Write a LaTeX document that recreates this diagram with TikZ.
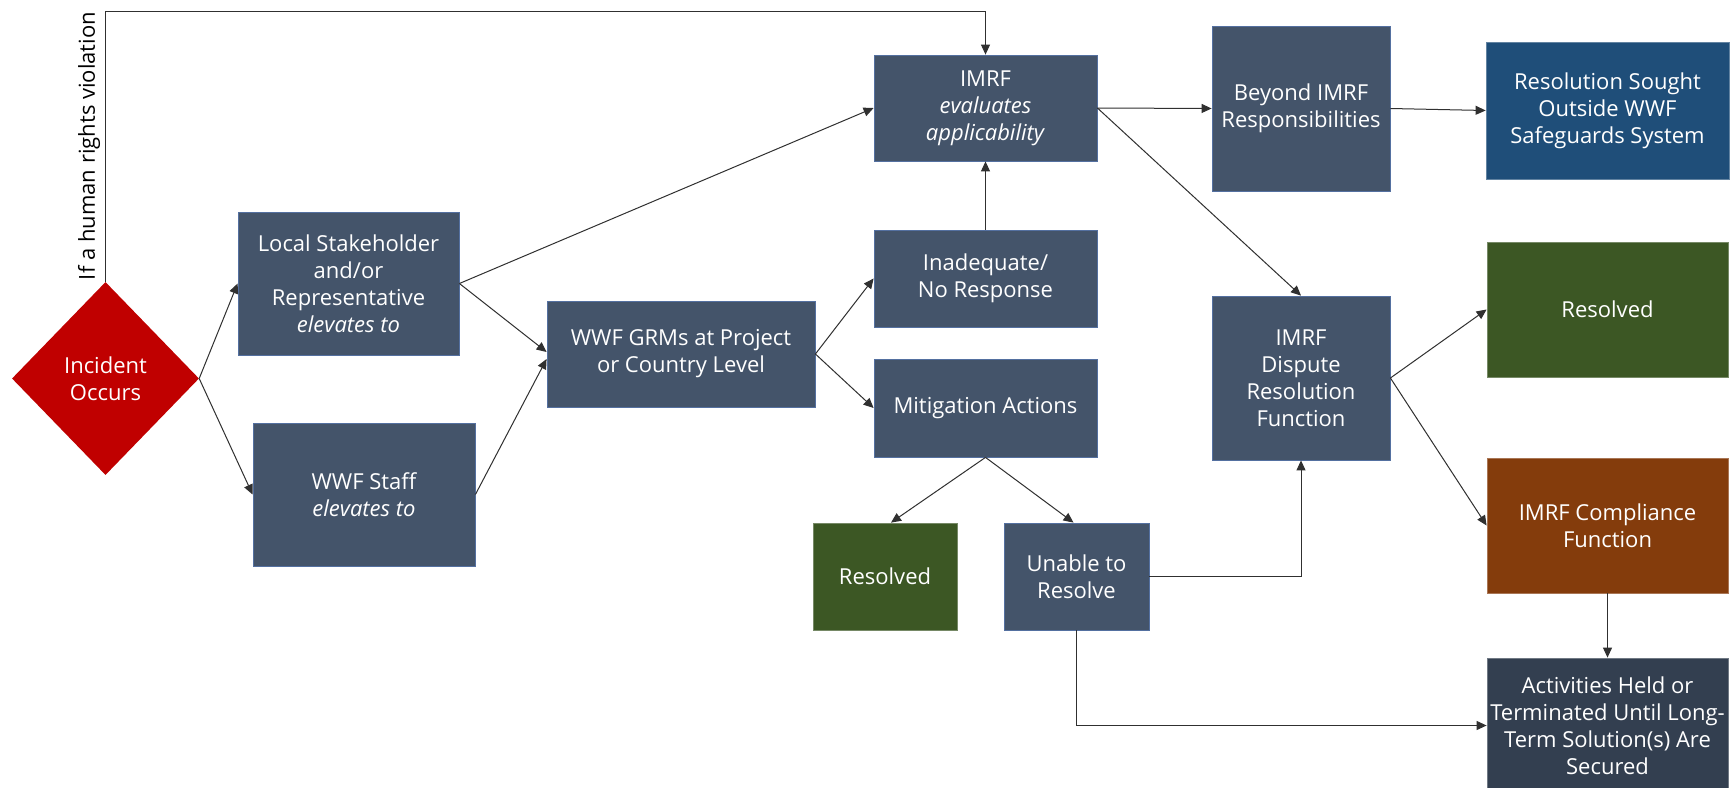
\documentclass[tikz,border=0pt]{standalone}
\usepackage{fontspec}
\setmainfont{Open Sans}
\usetikzlibrary{shapes.geometric,arrows.meta}
\definecolor{slate}{HTML}{44546A}
\definecolor{slateedge}{HTML}{5470A0}
\definecolor{incred}{HTML}{C00000}
\definecolor{resgreen}{HTML}{3C5724}
\definecolor{seekblue}{HTML}{1F4E79}
\definecolor{compbrown}{HTML}{843C0C}
\definecolor{actdark}{HTML}{333F50}
\definecolor{linegray}{HTML}{303030}
\begin{document}
\begin{tikzpicture}[x=1pt,y=-1pt,
  box/.style={rectangle, fill=slate, draw=slateedge, line width=0.8pt, inner sep=0pt,
    text=white, align=center, font=\fontsize{22}{27}\selectfont},
  greenbox/.style={box, fill=resgreen, draw=resgreen!70!white},
  bluebox/.style={box, fill=seekblue, draw=seekblue!70!white},
  brownbox/.style={box, fill=compbrown, draw=compbrown!70!white},
  darkbox/.style={box, fill=actdark, draw=actdark!70!white},
  arr/.style={draw=linegray, line width=1pt, -{Triangle[length=10pt,width=9pt]}},
]
\clip (0,0) rectangle (1734,787);
\fill[white] (0,0) rectangle (1734,787);

% nodes
\node[diamond, fill=incred, inner sep=0pt, minimum width=187pt, minimum height=193pt,
  text=white, align=center, font=\fontsize{22}{27}\selectfont] (inc) at (105.5,378.5) {Incident\\Occurs};
\node[rotate=90, font=\fontsize{22}{26}\selectfont, inner sep=0pt] (hrlab) at (89,146) {If a human rights violation};

\node[box, minimum width=221pt, minimum height=143pt] (local) at (348.5,283.5)
  {Local Stakeholder\\and/or\\Representative\\\textit{elevates to}};
\node[box, minimum width=222pt, minimum height=143pt] (staff) at (364,494.5)
  {WWF Staff\\\textit{elevates to}};
\node[box, minimum width=268pt, minimum height=106pt] (grm) at (681,354)
  {WWF GRMs at Project\\or Country Level};
\node[box, minimum width=223pt, minimum height=106pt] (imrf) at (985.5,108)
  {IMRF\\\textit{evaluates}\\\textit{applicability}};
\node[box, minimum width=223pt, minimum height=97pt] (inad) at (985.5,278.5)
  {Inadequate/\\No Response};
\node[box, minimum width=223pt, minimum height=98pt] (mitig) at (985.5,408)
  {Mitigation Actions};
\node[greenbox, minimum width=144pt, minimum height=107pt] (resa) at (885,576.5)
  {Resolved};
\node[box, minimum width=145pt, minimum height=107pt] (unable) at (1076.5,576.5)
  {Unable to\\Resolve};
\node[box, minimum width=178pt, minimum height=165pt] (beyond) at (1301,108.5)
  {Beyond IMRF\\Responsibilities};
\node[box, minimum width=178pt, minimum height=164pt] (dispute) at (1301,378)
  {IMRF\\Dispute\\Resolution\\Function};
\node[bluebox, minimum width=243pt, minimum height=137pt] (sought) at (1607.5,110.5)
  {Resolution Sought\\Outside WWF\\Safeguards System};
\node[greenbox, minimum width=241pt, minimum height=135pt] (resb) at (1607.5,309.5)
  {Resolved};
\node[brownbox, minimum width=241pt, minimum height=135pt] (compl) at (1607.5,525.5)
  {IMRF Compliance\\Function};
\node[darkbox, minimum width=241pt, minimum height=135pt] (activ) at (1607.5,725.5)
  {Activities Held or\\Terminated Until Long-\\Term Solution(s) Are\\Secured};

% connectors
\coordinate (hrtop) at (105.5,11);
\draw[arr] (inc.north) -- (hrtop) -| (imrf.north);
\draw[arr] (inc.east) -- (local.west);
\draw[arr] (inc.east) -- (staff.west);
\draw[arr] (local.east) -- (imrf.west);
\draw[arr] (local.east) -- ([yshift=2pt]grm.west);
\draw[arr] (staff.east) -- ([yshift=-5pt]grm.west);
\draw[arr] (grm.east) -- (inad.west);
\draw[arr] (grm.east) -- (mitig.west);
\draw[arr] (inad.north) -- (imrf.south);
\draw[arr] (mitig.south) -- ([xshift=6pt]resa.north);
\draw[arr] (mitig.south) -- ([xshift=-3pt]unable.north);
\draw[arr] (unable.east) -| (dispute.south);
\draw[arr] (unable.south) |- (activ.west);
\draw[arr] (imrf.east) -- (beyond.west);
\draw[arr] (imrf.east) -- (dispute.north);
\draw[arr] (beyond.east) -- (sought.west);
\draw[arr] (dispute.east) -- (resb.west);
\draw[arr] (dispute.east) -- (compl.west);
\draw[arr] (compl.south) -- (activ.north);
\end{tikzpicture}
\end{document}
